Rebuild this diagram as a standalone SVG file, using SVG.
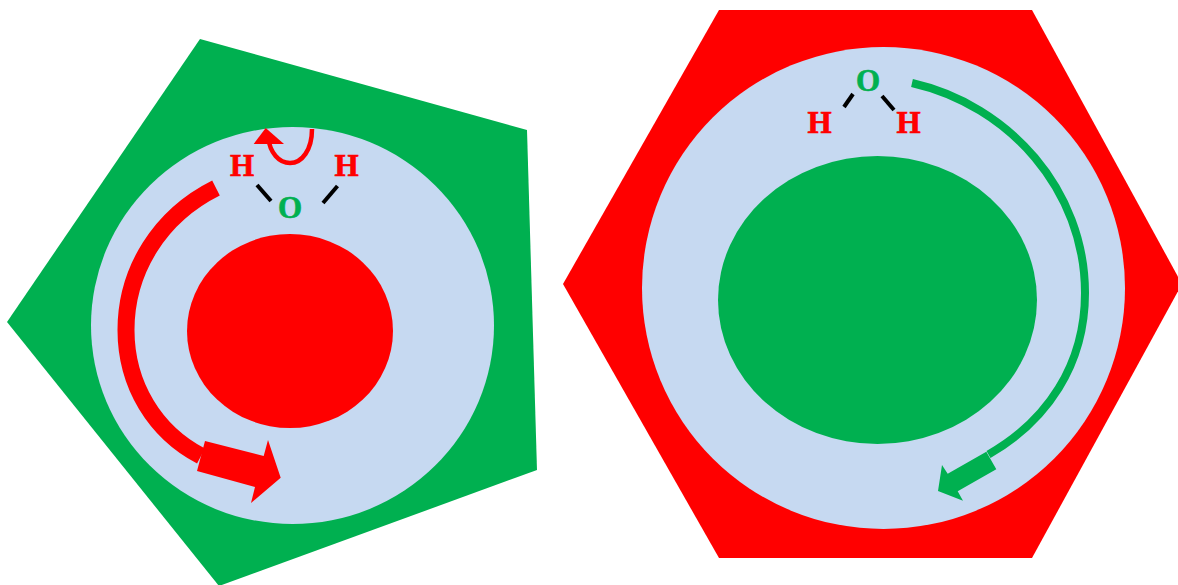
<svg xmlns="http://www.w3.org/2000/svg" width="1178" height="585" viewBox="0 0 1178 585">
<style>
.g{fill:#00b050}.r{fill:#f00}.b{fill:#c6d9f1}
.bond{stroke:#000;stroke-width:4;fill:none}
.t{font-family:"Liberation Serif","Times New Roman",serif;font-weight:bold;font-size:31px;text-anchor:middle;stroke-width:.7px}
.t.r{stroke:#f00}.t.g{stroke:#00b050}
</style>
<rect width="1178" height="585" fill="#fff"/>
<g id="cell-left">
<polygon class="g" points="200,39 527,130 537,470 219,586 7,322"/>
<ellipse class="b" cx="292.500" cy="325.500" rx="201.500" ry="198.500"/>
<ellipse class="r" cx="290" cy="331" rx="103" ry="97"/>
</g>
<g id="cell-right">
<polygon class="r" points="719,10 1032,10 1182,284 1032,558 719,558 563,284"/>
<ellipse class="b" cx="883.500" cy="288" rx="241.500" ry="241"/>
<ellipse class="g" cx="877.500" cy="300" rx="159.500" ry="144"/>
</g>
<g id="connectors">
<path d="M216,188C160,216 126,270 126,330C126,385 155,432 201,456" fill="none" stroke="#f00" stroke-width="17"/>
<polygon class="r" points="205,441 263.700,456 268,440 280.700,477.700 251,503 255,487 197,471"/>
<path d="M312,129C312,150 302,163 290,163C279,163 270,153 268,137" fill="none" stroke="#f00" stroke-width="4.500"/>
<polygon class="r" points="265.700,128 284,144 253.700,144"/>
<line class="bond" x1="257" y1="185" x2="271" y2="201"/>
<line class="bond" x1="337.500" y1="186" x2="323" y2="203"/>
<path d="M912,83C1009,105 1085,190 1085,293C1085,365 1047,421 988.500,454.500" fill="none" stroke="#00b050" stroke-width="8"/>
<polygon class="g" points="986.300,451.700 996.300,469.300 957.700,491.300 963,500.700 938,491 942,465 947.700,473.700"/>
<line class="bond" x1="853" y1="94" x2="844" y2="107"/>
<line class="bond" x1="882" y1="96" x2="894" y2="110"/>
</g>
<g id="water-left">
<text class="t r" x="242" y="176">H</text>
<text class="t r" x="346.500" y="176">H</text>
<text class="t g" x="290" y="217.500">O</text>
</g>
<g id="water-right">
<text class="t r" x="819.500" y="133">H</text>
<text class="t r" x="908.500" y="133">H</text>
<text class="t g" x="868" y="91">O</text>
</g>
</svg>
